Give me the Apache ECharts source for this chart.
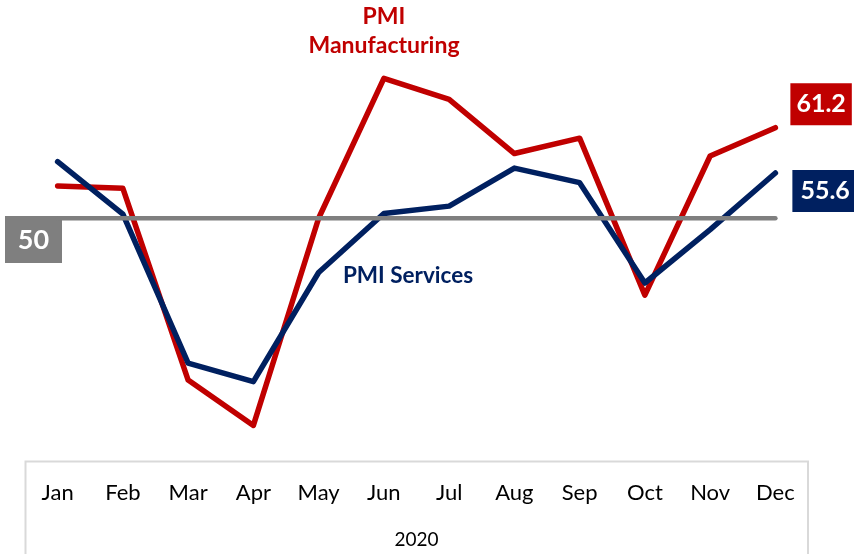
<!DOCTYPE html>
<html>
<head>
<meta charset="utf-8">
<script src="https://cdn.jsdelivr.net/npm/echarts@6/dist/echarts.min.js"></script>
<style>html,body{margin:0;padding:0;background:#fff;}#c{width:854px;height:554px;}</style>
</head>
<body>
<div id="c"></div>
<script>
const months = ['Jan','Feb','Mar','Apr','May','Jun','Jul','Aug','Sep','Oct','Nov','Dec'];
const manufacturing = [54.0, 53.7, 30.0, 24.4, 50.0, 67.3, 64.7, 58.0, 59.9, 40.5, 57.7, 61.2];
const services = [57.0, 50.5, 32.1, 29.8, 43.3, 50.6, 51.5, 56.2, 54.4, 42.0, 48.6, 55.6];
const thresholdValue = 50;
const yearLabel = '2020';

const FONT = 'Lato, "Open Sans", sans-serif';
const RED = '#c00000', NAVY = '#002060', GRAY = '#7f7f7f';

const chart = echarts.init(document.getElementById('c'), null, {renderer: 'canvas'});
chart.setOption({
  animation: false,
  backgroundColor: '#fff',
  grid: {left: 25, right: 46, top: 16, bottom: 93, containLabel: false},
  xAxis: {
    type: 'category',
    data: months,
    boundaryGap: true,
    axisLine: {show: false},
    axisTick: {show: false},
    axisLabel: {color: '#000', fontSize: 22, fontFamily: FONT, margin: 21},
    name: yearLabel,
    nameLocation: 'middle',
    nameGap: 69,
    nameTextStyle: {color: '#000', fontSize: 19, fontFamily: FONT}
  },
  yAxis: {type: 'value', min: 20, max: 75, show: false, splitLine: {show: false}},
  series: [
    {
      name: 'PMI Manufacturing', type: 'line', data: manufacturing,
      showSymbol: false, z: 2,
      lineStyle: {color: RED, width: 5.5, cap: 'round', join: 'round'},
      endLabel: {show: true, formatter: p => p.value.toFixed(1), color: '#fff', fontWeight: 'bold',
        fontSize: 25, fontFamily: FONT, backgroundColor: RED, padding: [9, 6, 8, 6], offset: [7, -23.5]}
    },
    {
      name: 'PMI Services', type: 'line', data: services,
      showSymbol: false, z: 3,
      lineStyle: {color: NAVY, width: 5.5, cap: 'round', join: 'round'},
      endLabel: {show: true, formatter: p => p.value.toFixed(1), color: '#fff', fontWeight: 'bold',
        fontSize: 25, fontFamily: FONT, backgroundColor: NAVY, padding: [9, 8, 8, 8], offset: [9, 18]}
    },
    {
      name: 'Threshold', type: 'line',
      data: [[months[0], thresholdValue], [months[months.length - 1], thresholdValue]],
      showSymbol: false, z: 4, silent: true,
      lineStyle: {color: GRAY, width: 4.5, cap: 'round'}
    }
  ],
  graphic: [
    {type: 'rect', z: 0, shape: {x: 25.5, y: 461.5, width: 782.5, height: 120},
      style: {fill: 'none', stroke: '#d9d9d9', lineWidth: 2}},
    {type: 'group', z: 10, children: [
      {type: 'rect', shape: {x: 5, y: 216, width: 57, height: 47}, style: {fill: GRAY}},
      {type: 'text', style: {text: String(thresholdValue), x: 33.5, y: 240, align: 'center', verticalAlign: 'middle',
        fill: '#fff', font: 'bold 27px ' + FONT}}
    ]},
    {type: 'text', z: 10, style: {text: 'PMI\nManufacturing', x: 384, y: 2, align: 'center',
      fill: RED, font: 'bold 23px ' + FONT, lineHeight: 29}},
    {type: 'text', z: 10, style: {text: 'PMI Services', x: 408, y: 276, align: 'center', verticalAlign: 'middle',
      fill: NAVY, font: 'bold 22.5px ' + FONT}}
  ]
});
</script>
</body>
</html>
